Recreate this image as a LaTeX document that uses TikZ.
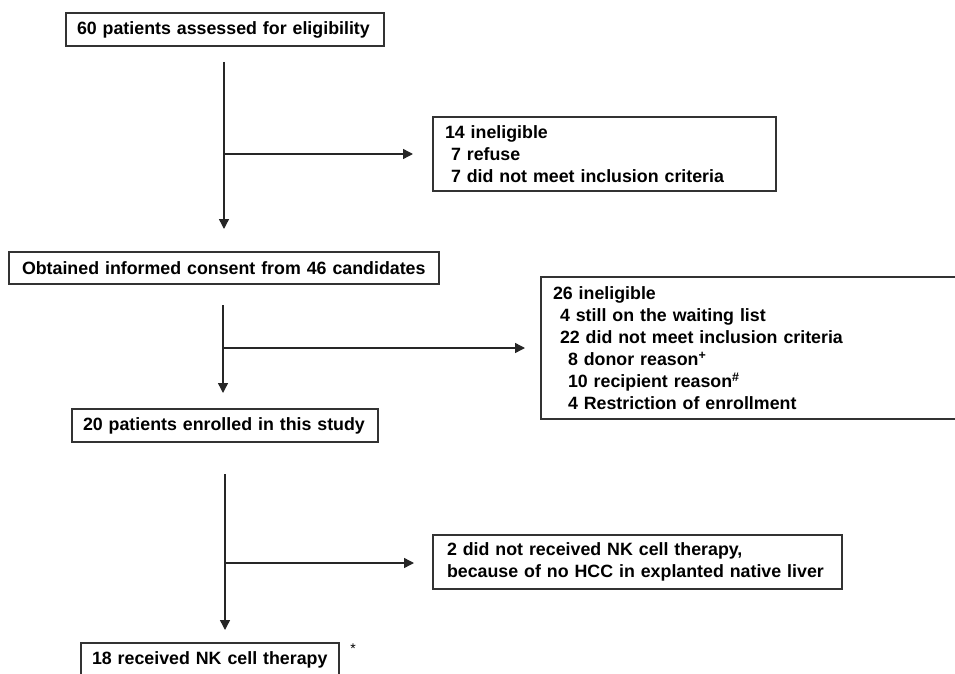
\documentclass[tikz,border=0pt]{standalone}
\usepackage{fontspec}
\setmainfont{Liberation Sans}
\usetikzlibrary{arrows.meta}
\begin{document}
\begin{tikzpicture}[x=1pt,y=-1pt,
  box/.style={draw=black!80, line width=1.3pt, align=left, inner ysep=0pt,
    font=\fontsize{17.8}{22}\selectfont\bfseries, anchor=center},
  conn/.style={draw=black!85, line width=1.4pt},
  arr/.style={conn, -{Triangle[length=10pt,width=10pt]}}]
\useasboundingbox (0,0) rectangle (955,674);
\clip (0,0) rectangle (955,674);
% boxes
\node[box, inner xsep=11pt, text width=296pt, minimum height=33pt] (b1) at (225,29.5)
  {60 patients assessed for eligibility};
\node[box, inner xsep=12pt, text width=319pt, minimum height=74pt] (b2) at (604.5,154)
  {14 ineligible\\\hspace*{6pt}7 refuse\\\hspace*{6pt}7 did not meet inclusion criteria};
\node[box, inner xsep=13pt, text width=404pt, minimum height=32pt] (b3) at (224,268)
  {Obtained informed consent from 46 candidates};
\node[box, inner xsep=12pt, text width=417pt, minimum height=142pt] (b4) at (761.5,348)
  {26 ineligible\\
   \hspace*{7pt}4 still on the waiting list\\
   \hspace*{7pt}22 did not meet inclusion criteria\\
   \hspace*{15pt}8 donor reason\textsuperscript{+}\\
   \hspace*{15pt}10 recipient reason\textsuperscript{\#}\\
   \hspace*{15pt}4 Restriction of enrollment};
\node[box, inner xsep=11pt, text width=284pt, minimum height=33pt] (b5) at (225,425.5)
  {20 patients enrolled in this study};
\node[box, inner xsep=14pt, text width=381pt, minimum height=54pt] (b6) at (637.5,562)
  {2 did not received NK cell therapy,\\because of no HCC in explanted native liver};
\node[box, inner xsep=11pt, text width=236pt, minimum height=33pt] (b7) at (210,659.5)
  {18 received NK cell therapy};
\node[font=\fontsize{14}{14}\selectfont, inner sep=0pt] (star) at (353,649) {*};
% connector end points
\coordinate (s1) at (224,62);  \coordinate (e1) at (224,229);
\coordinate (j1) at (224,154); \coordinate (h1) at (413,154);
\coordinate (s2) at (223,305); \coordinate (e2) at (223,393);
\coordinate (j2) at (223,348); \coordinate (h2) at (525,348);
\coordinate (s3) at (225,474); \coordinate (e3) at (225,630);
\coordinate (j3) at (225,563); \coordinate (h3) at (414,563);
% connectors
\draw[arr] (s1) -- (e1);
\draw[arr] (j1) -- (h1);
\draw[arr] (s2) -- (e2);
\draw[arr] (j2) -- (h2);
\draw[arr] (s3) -- (e3);
\draw[arr] (j3) -- (h3);
\end{tikzpicture}
\end{document}
